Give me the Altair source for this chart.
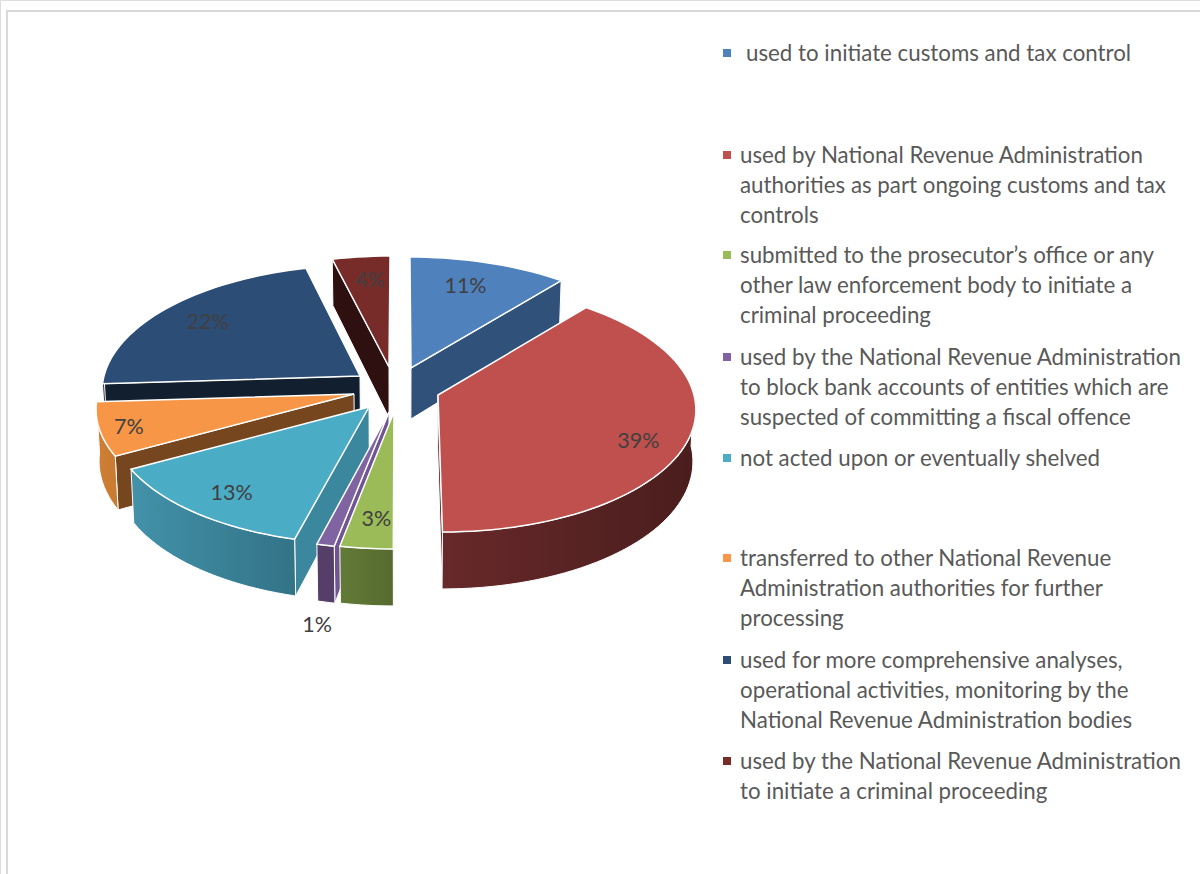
import math
import altair as alt

# Slice shares in percent, clockwise from twelve o'clock
shares = [11, 39, 3, 1, 13, 7, 22, 4]
share_labels = ["11%", "39%", "3%", "1%", "13%", "7%", "22%", "4%"]

top_colors = ["#4f81bd", "#c0504d", "#9bbb59", "#8064a2", "#4bacc6", "#f79646", "#2c4d75", "#772c2a"]
face_colors = ["#30517a", "#5a2423", "#5c7033", "#715592", "#3b879e", "#76461f", "#111f2e", "#2e1010"]
wall_right = ["#30517a", "#4a1d1d", "#566a2f", "#553f68", "#337387", "#c87a30", "#111f2e", "#2e1010"]
wall_left = ["#30517a", "#68292a", "#627a37", "#553f68", "#4292a9", "#cf8036", "#111f2e", "#2e1010"]

legend_entries = [
    [" used to initiate customs and tax control"],
    ["used by National Revenue Administration", "authorities as part ongoing customs and tax", "controls"],
    ["submitted to the prosecutor\u2019s office or any", "other law enforcement body to initiate a", "criminal proceeding"],
    ["used by the National Revenue Administration", "to block bank accounts of entities which are", "suspected of committing a fiscal offence"],
    ["not acted upon or eventually shelved"],
    ["transferred to other National Revenue", "Administration authorities for further", "processing"],
    ["used for more comprehensive analyses,", "operational activities, monitoring by the", "National Revenue Administration bodies"],
    ["used by the National Revenue Administration", "to initiate a criminal proceeding"],
]

# Layout of the exploded pie: where each wedge's tip sits, and how the disc is tilted
tips = [(411, 368), (438, 395), (394, 412), (389, 412), (369, 407), (354, 394), (360, 376), (389, 367)]
RX, RY, PERSPECTIVE, VANISH_X = 256, 122.6, 0.105, 400
DEPTH, BOTTOM_SHRINK = 51, 0.99
paint_order = [7, 6, 0, 5, 4, 3, 2, 1]
# Which radial edge of each wedge shows its side face (0: leading, 1: trailing)
visible_edge = [1, 1, 0, 0, 0, 0, 0, 0]
label_radius = [0.76, 0.83, 0.80, 1.49, 0.82, 0.89, 0.78, 0.776]
label_turn = [-2, 6, -1, -3.7, -1, -1, 0, 1]

# Layout of the legend
legend_tops = [54, 156, 256, 358, 459, 559, 661, 762]
LINE_STEP = 29.8
LEGEND_TEXT_X, LEGEND_MARK_X = 740, 727


def project(tip, theta, f=1.0):
    """Point at angle theta (degrees clockwise from top) and radial fraction f on the top disc."""
    u = math.sin(math.radians(theta)) * f
    v = -math.cos(math.radians(theta)) * f
    s = 1 / (1 - PERSPECTIVE * v)
    return tip[0] + RX * u * s + (tip[0] - VANISH_X) * (s - 1), tip[1] + RY * v * s, s


def lower(tip, theta, f=1.0):
    """The matching point on the underside of the wedge."""
    x, y, s = project(tip, theta, f)
    return VANISH_X + (x - VANISH_X) * BOTTOM_SHRINK, y + DEPTH * s


def upper(tip, theta, f=1.0):
    return project(tip, theta, f)[:2]


def polygon(points):
    ring = [list(p) for p in points]
    ring.append(ring[0])
    return {"type": "Feature", "geometry": {"type": "Polygon", "coordinates": [ring]}, "properties": {}}


def shape_layer(points, fill, stroke_width):
    return alt.Chart(alt.Data(values=[polygon(points)])).mark_geoshape(
        fill=fill, stroke="#ffffff", strokeWidth=stroke_width
    ).project(type="identity", scale=1, translate=[0, 0])


total = sum(shares)
edges = [0.0]
for value in shares:
    edges.append(edges[-1] + value / total * 360)

pie_layers = []
for i in paint_order:
    tip, a0, a1 = tips[i], edges[i], edges[i + 1]
    arc_steps = max(4, int((a1 - a0) / 2))
    arc = [a0 + (a1 - a0) * k / arc_steps for k in range(arc_steps + 1)]

    # Radial side face that looks towards the viewer
    edge = edges[i + visible_edge[i]]
    pie_layers.append(shape_layer([tip, upper(tip, edge), lower(tip, edge), lower(tip, edge, 0)],
                                  face_colors[i], 1))

    # Curved outer wall along the front half of the disc, shaded left to right
    w0, w1 = max(a0, 90), min(a1, 270)
    if w1 > w0:
        n = max(4, int((w1 - w0) / 2))
        wall = [w0 + (w1 - w0) * k / n for k in range(n + 1)]
        outline = [upper(tip, a) for a in wall] + [lower(tip, a) for a in reversed(wall)]
        shade = alt.Gradient(
            gradient="linear", x1=0, x2=1, y1=0, y2=0,
            stops=[alt.GradientStop(color=wall_left[i], offset=0), alt.GradientStop(color=wall_right[i], offset=1)],
        )
        pie_layers.append(shape_layer(outline, shade, 1))

    # Top face
    pie_layers.append(shape_layer([tip] + [upper(tip, a) for a in arc], top_colors[i], 1.5))

label_rows = []
for i, text in enumerate(share_labels):
    mid = (edges[i] + edges[i + 1]) / 2 + label_turn[i]
    x, y, _ = project(tips[i], mid, label_radius[i])
    label_rows.append({"x": x, "y": y + 1, "text": text})

labels = alt.Chart(alt.Data(values=label_rows)).mark_text(
    font="Lato", fontSize=21.5, color="#404040", align="center", baseline="middle"
).encode(
    x=alt.X("x:Q", scale=None, axis=None),
    y=alt.Y("y:Q", scale=None, axis=None),
    text="text:N",
)

line_rows, mark_rows = [], []
for i, entry in enumerate(legend_entries):
    mark_rows.append({"x": LEGEND_MARK_X, "y": legend_tops[i] - 1, "c": top_colors[i]})
    for j, line in enumerate(entry):
        offset = 6 if line.startswith(" ") else 0
        line_rows.append({"x": LEGEND_TEXT_X + offset, "y": legend_tops[i] + j * LINE_STEP, "text": line.strip()})

legend_text = alt.Chart(alt.Data(values=line_rows)).mark_text(
    font="Lato", fontSize=22.3, color="#595959", align="left", baseline="middle"
).encode(
    x=alt.X("x:Q", scale=None, axis=None),
    y=alt.Y("y:Q", scale=None, axis=None),
    text="text:N",
)

legend_marks = alt.Chart(alt.Data(values=mark_rows)).mark_square(size=64, opacity=1, filled=True).encode(
    x=alt.X("x:Q", scale=None, axis=None),
    y=alt.Y("y:Q", scale=None, axis=None),
    fill=alt.Fill("c:N", scale=None, legend=None),
)

# Light border along the top and left of the chart area
frame_top = alt.Chart(alt.Data(values=[{"a": 1}])).mark_rule(color="#d9d9d9", strokeWidth=2).encode(
    x=alt.value(6), x2=alt.value(1200), y=alt.value(11)
)
frame_left = alt.Chart(alt.Data(values=[{"a": 1}])).mark_rule(color="#d9d9d9", strokeWidth=2).encode(
    x=alt.value(7), y=alt.value(11), y2=alt.value(874)
)

chart = alt.layer(frame_top, frame_left, *pie_layers, labels, legend_marks, legend_text).properties(
    width=1200, height=874, padding=0, autosize=alt.AutoSizeParams(type="none")
).configure_view(stroke=None).configure(background="#ffffff")

chart.save("out.html", embed_options={"renderer": "svg", "actions": False})
